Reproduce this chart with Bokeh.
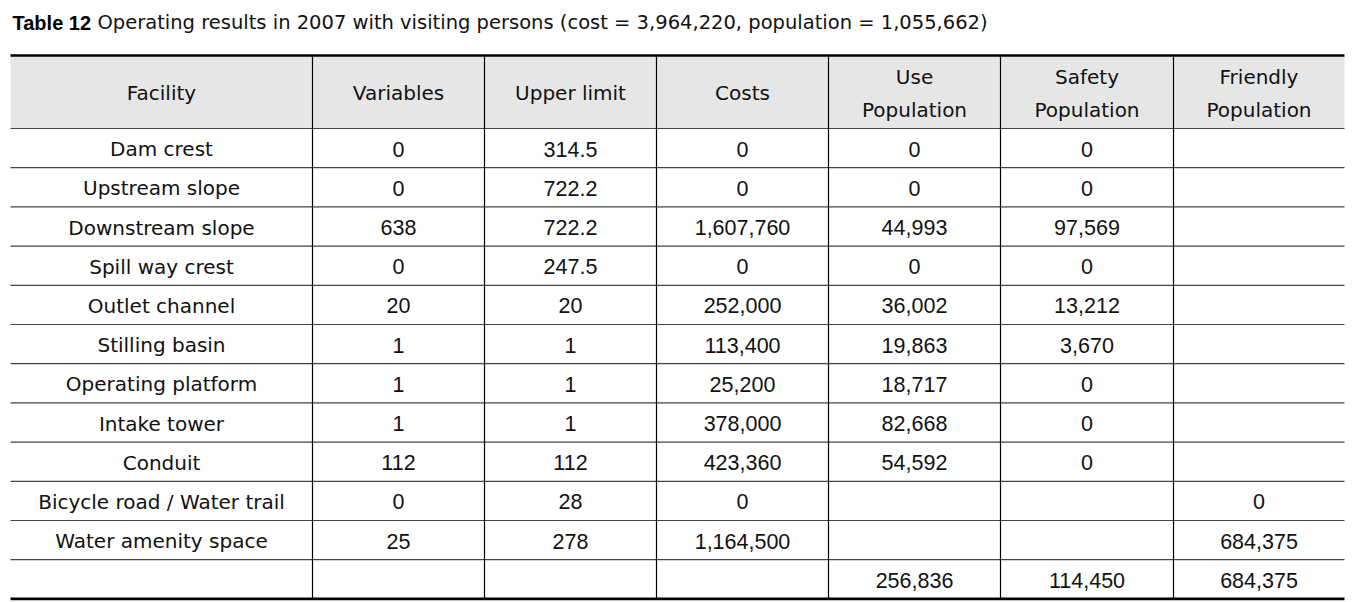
from bokeh.plotting import figure
from bokeh.models import Range1d, ColumnDataSource
from bokeh.core.properties import value
from bokeh.embed import file_html
from bokeh.resources import INLINE

# ---- data ----
title_bold = "Table 12"
title_rest = "Operating results in 2007 with visiting persons (cost = 3,964,220, population = 1,055,662)"
headers = ["Facility", "Variables", "Upper limit", "Costs", "Use\nPopulation",
           "Safety\nPopulation", "Friendly\nPopulation"]
facility = ["Dam crest", "Upstream slope", "Downstream slope", "Spill way crest",
            "Outlet channel", "Stilling basin", "Operating platform", "Intake tower",
            "Conduit", "Bicycle road / Water trail", "Water amenity space", ""]
variables = ["0", "0", "638", "0", "20", "1", "1", "1", "112", "0", "25", ""]
upper_limit = ["314.5", "722.2", "722.2", "247.5", "20", "1", "1", "1", "112", "28", "278", ""]
costs = ["0", "0", "1,607,760", "0", "252,000", "113,400", "25,200", "378,000",
         "423,360", "0", "1,164,500", ""]
use_pop = ["0", "0", "44,993", "0", "36,002", "19,863", "18,717", "82,668",
           "54,592", "", "", "256,836"]
safety_pop = ["0", "0", "97,569", "0", "13,212", "3,670", "0", "0", "0", "", "", "114,450"]
friendly_pop = ["", "", "", "", "", "", "", "", "", "0", "684,375", "684,375"]

columns = [facility, variables, upper_limit, costs, use_pop, safety_pop, friendly_pop]

# ---- layout (image pixel coordinates) ----
col_edges = [10, 312, 484, 656, 828, 1000, 1173, 1344]
top_rule = 55
header_bottom = 128
row_h = 39.2
n_rows = len(facility)
row_edges = [header_bottom + i * row_h for i in range(n_rows + 1)]

p = figure(width=1364, height=602, output_backend="svg", toolbar_location=None,
           x_range=Range1d(0, 1364), y_range=Range1d(602, 0),
           min_border=0, outline_line_color=None)
p.axis.visible = False
p.grid.visible = False
p.background_fill_color = "white"
p.border_fill_color = "white"

LABEL_FONT = value("DejaVu Sans")
NUM_FONT = value("Liberation Sans")

# header background
p.quad(left=[col_edges[0]], right=[col_edges[-1]], top=[top_rule], bottom=[header_bottom],
       fill_color="#e6e6e6", line_color=None)

# horizontal row lines
p.segment(x0=[col_edges[0]] * n_rows, x1=[col_edges[-1]] * n_rows,
          y0=row_edges[:-1], y1=row_edges[:-1], line_color="#444444", line_width=1.2)
# thick rules
p.segment(x0=[col_edges[0]] * 2, x1=[col_edges[-1]] * 2,
          y0=[top_rule, row_edges[-1]], y1=[top_rule, row_edges[-1]],
          line_color="black", line_width=2.6)
# vertical lines
inner = col_edges[1:-1]
p.segment(x0=inner, x1=inner, y0=[top_rule] * len(inner), y1=[row_edges[-1]] * len(inner),
          line_color="black", line_width=1.2)

# headers
hx, hy, ht = [], [], []
for j, h in enumerate(headers):
    cx = (col_edges[j] + col_edges[j + 1]) / 2
    lines = h.split("\n")
    if len(lines) == 1:
        hx.append(cx); hy.append((top_rule + header_bottom) / 2 + 1); ht.append(lines[0])
    else:
        hx += [cx, cx]; hy += [76, 109]; ht += lines
p.text(x=hx, y=hy, text=ht, text_align="center", text_baseline="middle",
       text_font=LABEL_FONT, text_font_size="20px", text_color="#111111")

# facility labels
fx, fy, ft = [], [], []
cx0 = (col_edges[0] + col_edges[1]) / 2
for i, v in enumerate(facility):
    if v:
        fx.append(cx0); fy.append((row_edges[i] + row_edges[i + 1]) / 2 + 1); ft.append(v)
p.text(x=fx, y=fy, text=ft, text_align="center", text_baseline="middle",
       text_font=LABEL_FONT, text_font_size="20px", text_color="#111111")

# numeric cells
bx, by, bt = [], [], []
for j, col in enumerate(columns[1:], start=1):
    cx = (col_edges[j] + col_edges[j + 1]) / 2
    for i, v in enumerate(col):
        if v == "":
            continue
        bx.append(cx)
        by.append((row_edges[i] + row_edges[i + 1]) / 2 + 1)
        bt.append(v)
src = ColumnDataSource(dict(x=bx, y=by, t=bt))
p.text(x="x", y="y", text="t", source=src, text_align="center", text_baseline="middle",
       text_font=NUM_FONT, text_font_size="21.5px", text_color="#111111")

# title
p.text(x=[12], y=[22], text=[title_bold], text_align="left", text_baseline="middle",
       text_font=NUM_FONT, text_font_size="20px", text_font_style="bold", text_color="black")
p.text(x=[97], y=[22], text=[title_rest], text_align="left", text_baseline="middle",
       text_font=LABEL_FONT, text_font_size="19.5px", text_color="#111111")

open("out.html", "w").write(file_html(p, INLINE))
